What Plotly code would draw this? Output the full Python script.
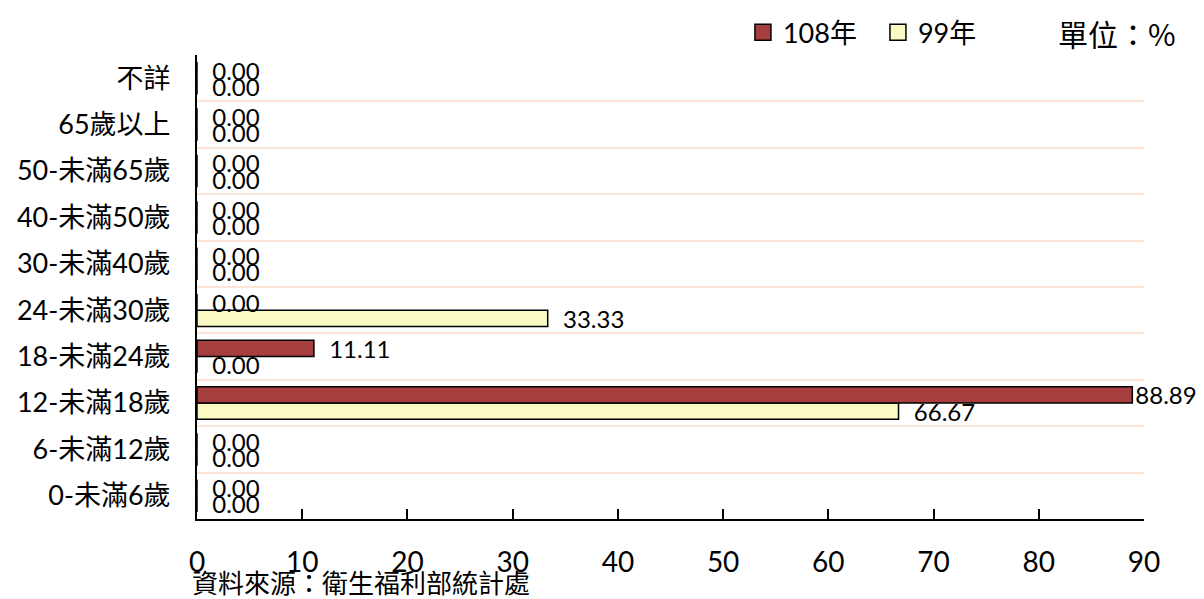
import plotly.graph_objects as go

categories = ["0-未滿6歲", "6-未滿12歲", "12-未滿18歲", "18-未滿24歲", "24-未滿30歲",
              "30-未滿40歲", "40-未滿50歲", "50-未滿65歲", "65歲以上", "不詳"]
values_108 = [0.00, 0.00, 88.89, 11.11, 0.00, 0.00, 0.00, 0.00, 0.00, 0.00]
values_99 = [0.00, 0.00, 66.67, 0.00, 33.33, 0.00, 0.00, 0.00, 0.00, 0.00]
x_ticks = [0, 10, 20, 30, 40, 50, 60, 70, 80, 90]
x_max = 90

FONT = "Lato, 'Noto Sans CJK TC', sans-serif"
CJK = "'Noto Sans CJK TC', sans-serif"
PAD = "\u00a0\u00a0"
COLOR_108 = "#A53E3D"
COLOR_99 = "#FAFAC4"


def label_templates(vals):
    # labels near the right edge sit close to the bar end (as in the original)
    return [("%{x:.2f}" if v > 0.9 * x_max else PAD + "%{x:.2f}") for v in vals]


fig = go.Figure()
fig.add_trace(go.Bar(
    y=categories, x=values_99, orientation="h", name="99年", showlegend=False,
    marker=dict(color=COLOR_99, line=dict(color="#000000", width=1.5)),
    texttemplate=label_templates(values_99), textposition="outside", constraintext="none",
    textfont=dict(family=FONT, size=24, color="#000000"), cliponaxis=False,
))
fig.add_trace(go.Bar(
    y=categories, x=values_108, orientation="h", name="108年", showlegend=False,
    marker=dict(color=COLOR_108, line=dict(color="#000000", width=1.5)),
    texttemplate=label_templates(values_108), textposition="outside", constraintext="none",
    textfont=dict(family=FONT, size=24, color="#000000"), cliponaxis=False,
))
# legend entries with larger square swatches
for name, color in [("108年", COLOR_108), ("99年", COLOR_99)]:
    fig.add_trace(go.Scatter(
        x=[None], y=[None], mode="markers", name=name, hoverinfo="skip",
        marker=dict(symbol="square", size=18, color=color,
                    line=dict(color="#000000", width=1.5)),
    ))

fig.update_layout(
    width=1196, height=591,
    margin=dict(l=189, r=60, t=47, b=80, autoexpand=False),
    plot_bgcolor="#FFFFFF", paper_bgcolor="#FFFFFF",
    barmode="group", bargap=0.3, bargroupgap=0,
    font=dict(family=FONT, size=24, color="#000000"),
    showlegend=True,
    legend=dict(orientation="h", xref="container", yref="container",
                x=0.6145, xanchor="left", y=0.958, yanchor="middle",
                font=dict(family=FONT, size=27), itemwidth=30, entrywidth=90,
                itemsizing="trace", traceorder="normal", bgcolor="rgba(0,0,0,0)"),
    xaxis=dict(range=[0, x_max], tickvals=x_ticks, ticks="inside", ticklen=10,
               tickwidth=2, tickcolor="#000000", showline=True, linecolor="#000000",
               linewidth=2, showgrid=False, zeroline=False, ticklabelstandoff=17,
               automargin=False, tickfont=dict(family=FONT, size=28)),
    yaxis=dict(type="category", categoryorder="array", categoryarray=categories,
               tickson="boundaries", showgrid=True, gridcolor="#FCE4D6", gridwidth=2,
               showline=True, linecolor="#000000", linewidth=2, ticks="",
               ticklabelstandoff=19, automargin=False,
               tickfont=dict(family=FONT, size=27)),
    annotations=[
        dict(text="單位：%", xref="paper", yref="paper", x=1.036, y=1.047,
             xanchor="right", yanchor="middle", showarrow=False,
             font=dict(family=CJK, size=30, color="#000000")),
        dict(text="資料來源：衛生福利部統計處", xref="paper", yref="paper",
             x=-0.0074, y=-0.134, xanchor="left", yanchor="middle", showarrow=False,
             font=dict(family=CJK, size=26, color="#000000")),
    ],
)

fig.write_html("out.html")
